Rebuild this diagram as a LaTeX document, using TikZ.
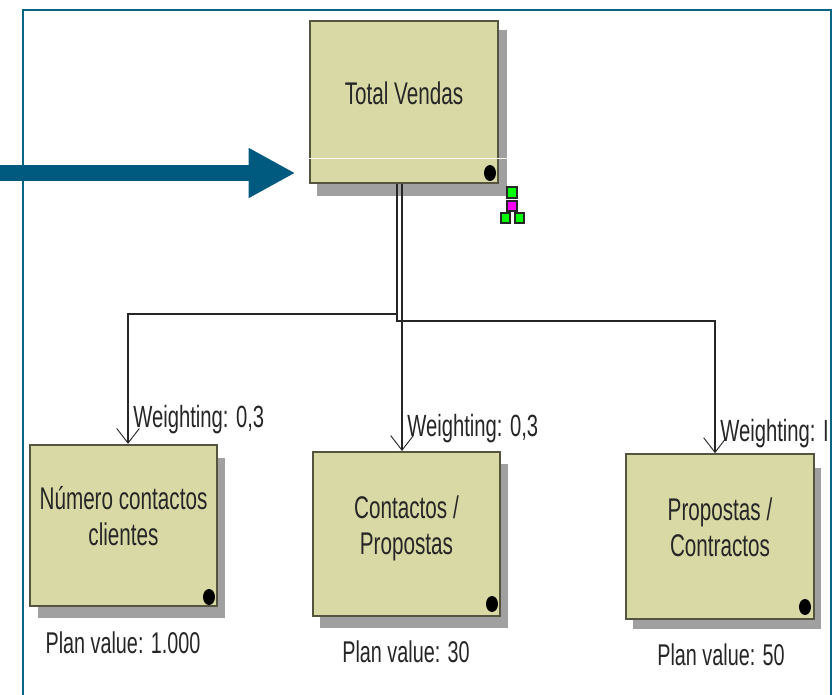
\documentclass[tikz,border=0pt]{standalone}
\usepackage{fontspec}
\setmainfont[FakeStretch=0.66]{Liberation Sans}
\usetikzlibrary{arrows.meta,positioning,shapes.geometric}
\definecolor{framecol}{HTML}{0A6485}
\definecolor{arrowcol}{HTML}{005A80}
\definecolor{boxcol}{HTML}{D9D9A6}
\definecolor{edgecol}{HTML}{55553F}
\definecolor{shadowcol}{HTML}{A0A0A0}
\definecolor{icongreen}{HTML}{00FF00}
\definecolor{iconpink}{HTML}{FF00FF}
\newcommand{\kpitext}[1]{#1\\[-13pt]\mbox{}}
\tikzset{
  kpi/.style={draw=edgecol,fill=boxcol,line width=1.5pt,minimum width=140.5pt,
    minimum height=122pt,align=center,inner sep=0pt,text=black!85,
    font=\fontsize{23.5}{27}\selectfont},
  plan/.style={font=\fontsize{22.5}{25}\selectfont,text=black!85,inner sep=0pt},
  weight/.style={font=\fontsize{23}{25}\selectfont,text=black!85,inner sep=0pt,anchor=west},
  shade/.style={fill=shadowcol,draw=none},
  dotmark/.style={ellipse,fill=black,minimum width=9pt,minimum height=12pt,inner sep=0pt},
  link/.style={line width=1.1pt,black!85,-{Straight Barb[length=11pt,width=17pt,line width=.7pt]}},
  greenbox/.style={draw=black!85,fill=icongreen,line width=1.5pt,minimum width=7pt,minimum height=8pt,inner sep=0pt},
  pinkbox/.style={greenbox,fill=iconpink}
}
\begin{document}
\begin{tikzpicture}[x=.75pt,y=-.75pt]
  \useasboundingbox (0,0) rectangle (834,695);

  % frame
  \coordinate (fa) at (23,695);
  \coordinate (fb) at (23,10);
  \coordinate (fc) at (831,10);
  \coordinate (fd) at (831,695);
  \draw[framecol,line width=1.5pt] (fa) -- (fb) -- (fc) -- (fd);

  % shadows
  \fill[shade] (317,30) rectangle (507,196);
  \fill[shade] (38,458) rectangle (225,618);
  \fill[shade] (320,464) rectangle (508,628);
  \fill[shade] (633,468) rectangle (821,629);

  % boxes
  \node[kpi,minimum height=121.5pt] (total) at (404,102) {\kpitext{Total Vendas}};
  \node[kpi,minimum height=121pt] (numero) at (123.5,525.5) {\kpitext{Número contactos\\clientes}};
  \node[kpi,minimum height=123pt] (contactos) at (406.5,534) {\kpitext{Contactos /\\Propostas}};
  \node[kpi,minimum height=123.5pt] (propostas) at (720,536.5) {\kpitext{Propostas /\\Contractos}};

  \draw[white!85!boxcol,line width=.6pt] (total.west |- 0,158) -- (507,158);

  \node[dotmark] (d1) at (490,173) {};
  \node[dotmark] (d2) at (209,597) {};
  \node[dotmark] (d3) at (492,604) {};
  \node[dotmark] (d4) at (805,607) {};

  % links
  \coordinate (trunk) at ([xshift=-5.25pt]total.south);
  \coordinate (mid) at ([xshift=-1.5pt]total.south);
  \coordinate (numtop) at ([xshift=3.4pt]numero.north);
  \coordinate (proptop) at ([xshift=-3.75pt]propostas.north);
  \draw[link] (mid) -- (mid |- contactos.north);
  \draw[link] (trunk) -- (trunk |- 0,314) -| (numtop);
  \draw[link] (trunk) -- (trunk |- 0,321) -| (proptop);

  \node[weight] (w1) at (133,420) {Weighting: 0,3};
  \node[weight] (w2) at (407,429) {Weighting: 0,3};
  \node[weight] (w3) at (720,434) {Weighting: I};

  \node[plan] (p1) at (123,643) {Plan value: 1.000};
  \node[plan] (p2) at (406,652) {Plan value: 30};
  \node[plan] (p3) at (721,655) {Plan value: 50};

  % tree icon
  \node[greenbox] (ga) at (512,192.5) {};
  \node[pinkbox] (pa) at (512,206) {};
  \node[greenbox] (gb) at (505.5,218) {};
  \node[greenbox] (gc) at (519.5,218) {};

  % big arrow
  \coordinate (tail) at (0,173);
  \draw[arrowcol,line width=12pt,-{Triangle[length=35pt,width=35pt]},shorten >=10.5pt]
    (tail) -- (total.west |- tail);
\end{tikzpicture}
\end{document}
